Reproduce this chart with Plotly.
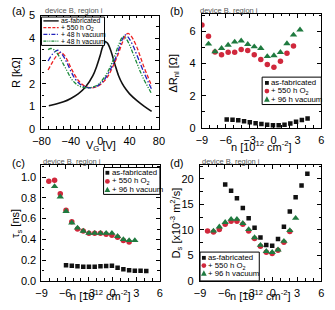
import plotly.graph_objects as go

W, H = 335, 310
FONT = "Liberation Sans, Arial, sans-serif"

# ---------------- data ----------------
# (a) R vs V_G
vg_fab = [-70, -60, -50, -40, -30, -20, -10, -5, 0, 3, 7, 10, 15, 20, 25, 30, 35, 40, 50, 60, 70]
r_fab = [1.03, 1.10, 1.20, 1.35, 1.55, 1.85, 2.35, 2.75, 3.25, 3.60, 3.85, 3.78, 3.40, 2.85, 2.35, 2.00, 1.75, 1.55, 1.25, 1.00, 0.78]

vg_o2 = [-71, -65, -60, -55, -50, -45, -40, -35, -30, -25, -20, -15, -10, -5, 0, 5, 10, 15, 20, 25, 30, 35, 38, 42, 45, 50, 55, 60, 65, 70]
r_o2 = [2.60, 2.95, 3.20, 3.37, 3.30, 3.05, 2.70, 2.40, 2.15, 1.98, 1.88, 1.83, 1.82, 1.86, 1.95, 2.10, 2.30, 2.60, 2.95, 3.35, 3.80, 4.15, 4.22, 4.10, 3.95, 3.60, 3.15, 2.70, 2.30, 1.90]

vg_vac1 = [-71, -65, -60, -57, -55, -50, -45, -40, -35, -30, -25, -20, -15, -10, -5, 0, 5, 10, 15, 20, 25, 30, 34, 38, 45, 50, 55, 60, 65, 70]
r_vac1 = [3.00, 3.30, 3.45, 3.47, 3.42, 3.20, 2.90, 2.55, 2.25, 2.05, 1.92, 1.85, 1.82, 1.83, 1.88, 2.00, 2.15, 2.40, 2.70, 3.05, 3.50, 3.95, 4.15, 4.05, 3.65, 3.25, 2.85, 2.45, 2.10, 1.75]

vg_vac2 = [-71, -67, -63, -60, -55, -50, -45, -40, -35, -30, -25, -20, -15, -10, -5, 0, 5, 10, 15, 20, 25, 30, 32, 35, 40, 45, 50, 55, 60, 65, 70]
r_vac2 = [3.50, 3.55, 3.50, 3.40, 3.15, 2.85, 2.55, 2.25, 2.05, 1.92, 1.85, 1.82, 1.82, 1.85, 1.92, 2.05, 2.25, 2.50, 2.85, 3.25, 3.70, 4.05, 4.08, 4.00, 3.70, 3.30, 2.90, 2.50, 2.15, 1.85, 1.55]

# carrier density grids (10^12 cm^-2)
n_fab = [-5.89, -5.16, -4.44, -3.71, -2.99, -2.26, -1.53, -0.81, -0.08, 0.64, 1.37, 2.10, 2.82, 3.55, 4.27]
n_o2 = [-8.07, -7.34, -6.62, -5.89, -5.16, -4.44, -3.71, -2.99, -2.26, -1.53, -0.81, -0.08, 0.64, 1.37, 2.10]
n_vac = [-7.34, -6.62, -5.89, -5.16, -4.44, -3.71, -2.99, -2.26, -1.53, -0.81, -0.08, 0.64, 1.37, 2.10, 2.82]

# (b) ΔR_nl (own n positions)
nb_o2 = [-9.00, -8.18, -7.36, -6.54, -5.71, -4.89, -4.07, -3.25, -2.43, -1.61, -0.79, 0.04, 0.86, 1.68, 2.50]
nb_vac = [-8.18, -7.36, -6.54, -5.71, -4.89, -4.07, -3.25, -2.43, -1.61, -0.79, 0.04, 0.86, 1.68, 2.50, 3.32]
dr_fab = [0.53, 0.52, 0.48, 0.42, 0.36, 0.30, 0.25, 0.21, 0.18, 0.18, 0.20, 0.28, 0.40, 0.50, 0.60]
dr_o2 = [6.40, 5.70, 4.72, 4.55, 4.70, 4.70, 4.87, 4.82, 4.55, 4.25, 3.95, 3.78, 4.15, 4.65, 5.10]
dr_vac = [5.22, 4.75, 4.95, 5.15, 5.35, 5.42, 5.20, 5.05, 4.95, 4.45, 4.50, 4.70, 5.25, 5.78, 6.10]

# (c) tau_s
tau_fab = [0.152, 0.147, 0.141, 0.137, 0.137, 0.137, 0.141, 0.143, 0.145, 0.127, 0.112, 0.104, 0.099, 0.099, 0.095]
tau_o2 = [0.96, 0.97, 0.84, 0.68, 0.57, 0.50, 0.48, 0.46, 0.46, 0.46, 0.45, 0.44, 0.42, 0.39, 0.375]
tau_vac = [0.91, 0.81, 0.67, 0.56, 0.51, 0.48, 0.46, 0.46, 0.46, 0.46, 0.46, 0.43, 0.40, 0.39, 0.39]

# (d) D_s
ds_fab = [18.9, 17.7, 16.2, 14.3, 12.3, 10.4, 8.5, 7.05, 6.9, 8.2, 10.6, 13.6, 16.4, 18.7, 21.0]
ds_o2 = [9.8, 9.6, 10.1, 11.1, 11.7, 11.7, 11.1, 9.8, 8.3, 6.8, 5.6, 5.4, 6.0, 7.6, 9.7]
ds_vac = [9.8, 10.6, 11.5, 12.1, 12.1, 11.3, 10.1, 8.5, 7.0, 5.8, 5.6, 6.1, 7.8, 9.9, 12.3]

labels_a = ["as-fabricated", "+ 550 h O<sub>2</sub>", "+ 48 h vacuum", "+ 48 h vacuum"]
labels_m = ["as-fabricated", "+ 550 h O<sub>2</sub>", "+ 96 h vacuum"]

# ---------------- styles ----------------
C_BLACK = "#111111"
C_RED_L = "#ee2222"
C_BLUE_L = "#2222bb"
C_GREEN_L = "#1b8a3a"
C_RED_M = "#d0283c"
C_GREEN_M = "#1f7a3f"
C_GRAY = "#555555"


def px2paper(x, y):
    return x / W, 1 - y / H


def dom(x0, x1, y0, y1):
    return [x0 / W, x1 / W], [1 - y1 / H, 1 - y0 / H]


fig = go.Figure()

# panel (a) lines
fig.add_trace(go.Scatter(x=vg_fab, y=r_fab, mode="lines", line=dict(color=C_BLACK, width=1.6, shape="spline"), xaxis="x", yaxis="y"))
fig.add_trace(go.Scatter(x=vg_o2, y=r_o2, mode="lines", line=dict(color=C_RED_L, width=1.3, dash="4px,2px", shape="spline"), xaxis="x", yaxis="y"))
fig.add_trace(go.Scatter(x=vg_vac1, y=r_vac1, mode="lines", line=dict(color=C_BLUE_L, width=1.3, dash="5px,2px,1.5px,2px", shape="spline"), xaxis="x", yaxis="y"))
fig.add_trace(go.Scatter(x=vg_vac2, y=r_vac2, mode="lines", line=dict(color=C_GREEN_L, width=1.3, dash="4px,1.5px,1.2px,1.5px,1.2px,1.5px", shape="spline"), xaxis="x", yaxis="y"))

sq = dict(symbol="square", size=4.5, color=C_BLACK)
ci = dict(symbol="circle", size=5.5, color=C_RED_M, line=dict(width=0))
tr = dict(symbol="triangle-up", size=6.5, color=C_GREEN_M, line=dict(width=0))

# panel (b)
fig.add_trace(go.Scatter(x=n_fab, y=dr_fab, mode="markers", marker=sq, xaxis="x2", yaxis="y2"))
fig.add_trace(go.Scatter(x=nb_o2, y=dr_o2, mode="markers", marker=ci, xaxis="x2", yaxis="y2"))
fig.add_trace(go.Scatter(x=nb_vac, y=dr_vac, mode="markers", marker=tr, xaxis="x2", yaxis="y2"))
# panel (c)
fig.add_trace(go.Scatter(x=n_fab, y=tau_fab, mode="markers", marker=sq, xaxis="x3", yaxis="y3"))
fig.add_trace(go.Scatter(x=n_o2, y=tau_o2, mode="markers", marker=ci, xaxis="x3", yaxis="y3"))
fig.add_trace(go.Scatter(x=n_vac, y=tau_vac, mode="markers", marker=tr, xaxis="x3", yaxis="y3"))
# panel (d)
fig.add_trace(go.Scatter(x=n_fab, y=ds_fab, mode="markers", marker=sq, xaxis="x4", yaxis="y4"))
fig.add_trace(go.Scatter(x=n_o2, y=ds_o2, mode="markers", marker=ci, xaxis="x4", yaxis="y4"))
fig.add_trace(go.Scatter(x=n_vac, y=ds_vac, mode="markers", marker=tr, xaxis="x4", yaxis="y4"))


def axis(rng, dtick, tick0, mdtick, domain, anchor, fmt=None, standoff=3):
    d = dict(range=rng, domain=domain, anchor=anchor, showline=True, linecolor="black", linewidth=1.2,
             mirror="allticks", ticks="inside", ticklen=4, tickwidth=1, tickcolor="black",
             tick0=tick0, dtick=dtick, showgrid=False, zeroline=False, fixedrange=True,
             minor=dict(ticks="inside", ticklen=2.5, tickwidth=1, tickcolor="black", dtick=mdtick, tick0=tick0, showgrid=False),
             tickfont=dict(size=11, family=FONT, color="black"), ticklabelstandoff=standoff)
    if fmt:
        d["tickformat"] = fmt
    return d


xa, ya = dom(34, 157, 10, 128)
xb, yb = dom(202, 327, 8, 127)
xc, yc = dom(34, 158, 165, 286)
xd, yd = dom(200, 327, 165, 286)

fig.update_layout(
    width=W, height=H, margin=dict(l=0, r=0, t=0, b=0),
    paper_bgcolor="white", plot_bgcolor="white", showlegend=False,
    font=dict(family=FONT, color="black"),
    xaxis=axis([-80, 80], 40, -80, 10, xa, "y", standoff=2),
    yaxis=axis([0, 5], 1, 0, 0.5, ya, "x", standoff=3),
    xaxis2=axis([-9, 6], 3, -9, 1, xb, "y2", standoff=2),
    yaxis2=axis([0, 7.1], 2, 0, 1, yb, "x2", standoff=3),
    xaxis3=axis([-9, 6], 3, -9, 1, xc, "y3", standoff=2),
    yaxis3=axis([0, 1.12], 0.2, 0, 0.1, yc, "x3", ".1f", standoff=2),
    xaxis4=axis([-9, 6], 3, -9, 1, xd, "y4", standoff=2),
    yaxis4=axis([0, 22.8], 5, 0, 2.5, yd, "x4", standoff=3),
)

ann = []
shapes = []


def text(x, y, s, size=11, color="black", xanchor="center", yanchor="middle", angle=0):
    px, py = px2paper(x, y)
    ann.append(dict(x=px, y=py, xref="paper", yref="paper", text=s, showarrow=False, textangle=angle,
                    xanchor=xanchor, yanchor=yanchor, font=dict(size=size, family=FONT, color=color)))


# panel letters
text(1, 5, "(a)", 11, xanchor="left")
text(166, 5, "(b)", 11, xanchor="left")
text(1, 163, "(c)", 11, xanchor="left")
text(166, 163, "(d)", 11, xanchor="left")
# device labels
text(36, 4.5, "device B, region i", 7.5, C_GRAY, xanchor="left")
text(198, 4.5, "device B, region i", 7.5, C_GRAY, xanchor="left")
text(33, 161.5, "device B, region i", 7.5, C_GRAY, xanchor="left")
text(200, 161.5, "device B, region i", 7.5, C_GRAY, xanchor="left")
# axis titles
text(96, 155, "V<sub>G</sub> [V]", 11, yanchor="bottom")
text(264, 155, "n [10<sup>12</sup> cm<sup>-2</sup>]", 11, yanchor="bottom")
text(96, 310, "n [10<sup>12</sup> cm<sup>-2</sup>]", 11, yanchor="bottom")
text(263, 310, "n [10<sup>12</sup> cm<sup>-2</sup>]", 11, yanchor="bottom")
text(8, 69, "R [kΩ]", 11, angle=-90)
text(173, 70, "ΔR<sub>nl</sub> [Ω]", 11, angle=-90)
text(8, 226, "τ<sub>s</sub> [ns]", 11, angle=-90)
text(175, 226, "D<sub>s</sub> [x10<sup>-3</sup> m<sup>2</sup>/s]", 11, angle=-90)


def box(x0, y0, x1, y1):
    a0, b0 = px2paper(x0, y0)
    a1, b1 = px2paper(x1, y1)
    shapes.append(dict(type="rect", xref="paper", yref="paper", x0=a0, y0=b1, x1=a1, y1=b0,
                       line=dict(color="black", width=1), fillcolor="white", layer="above"))


def seg(x0, x1, y, color, dash, width=1.3):
    a0, b = px2paper(x0, y)
    a1, _ = px2paper(x1, y)
    shapes.append(dict(type="line", xref="paper", yref="paper", x0=a0, x1=a1, y0=b, y1=b,
                       line=dict(color=color, width=width, dash=dash), layer="above"))


def marker(kind, x, y, color):
    if kind == "square":
        r = 2.0
        a0, b0 = px2paper(x - r, y + r)
        a1, b1 = px2paper(x + r, y - r)
        shapes.append(dict(type="rect", xref="paper", yref="paper", x0=a0, y0=b0, x1=a1, y1=b1,
                           line=dict(width=0), fillcolor=color, layer="above"))
    elif kind == "circle":
        r = 2.5
        a0, b0 = px2paper(x - r, y + r)
        a1, b1 = px2paper(x + r, y - r)
        shapes.append(dict(type="circle", xref="paper", yref="paper", x0=a0, y0=b0, x1=a1, y1=b1,
                           line=dict(width=0), fillcolor=color, layer="above"))
    else:
        p1 = px2paper(x, y - 3)
        p2 = px2paper(x - 3, y + 2.5)
        p3 = px2paper(x + 3, y + 2.5)
        path = f"M {p1[0]} {p1[1]} L {p2[0]} {p2[1]} L {p3[0]} {p3[1]} Z"
        shapes.append(dict(type="path", xref="paper", yref="paper", path=path,
                           line=dict(width=0), fillcolor=color, layer="above"))


# legend (a)
box(34, 11.5, 100, 41)
rows_a = [15.5, 22.5, 29.5, 36.5]
styles_a = [(C_BLACK, "solid"), (C_RED_L, "3px,1.5px"), (C_BLUE_L, "4px,1.5px,1px,1.5px"), (C_GREEN_L, "3px,1px,1px,1px,1px,1px")]
for yy, (col, dsh), lab in zip(rows_a, styles_a, labels_a):
    seg(36, 52, yy, col, dsh, 1.4)
    text(52.5, yy, lab, 6.8, xanchor="left")

# legends for marker panels
kinds = [("square", C_BLACK), ("circle", C_RED_M), ("triangle", C_GREEN_M)]


def mlegend(x0, y0, x1, y1, rows, mx, size=8):
    box(x0, y0, x1, y1)
    for yy, (k, col), lab in zip(rows, kinds, labels_m):
        marker(k, mx, yy, col)
        text(mx + 2.5, yy, lab, size, xanchor="left")


mlegend(265, 74, 327, 102.5, [80, 88.5, 97], 270, 7.8)
mlegend(99, 168, 158, 196, [173.5, 182.5, 191], 103, 7.8)
mlegend(200, 256, 262, 286, [262, 270, 278], 204, 7.8)

fig.update_layout(annotations=ann, shapes=shapes)
fig.write_html("out.html", config={"displayModeBar": False},
               post_script="document.body.style.margin='0';document.body.style.padding='0';")
